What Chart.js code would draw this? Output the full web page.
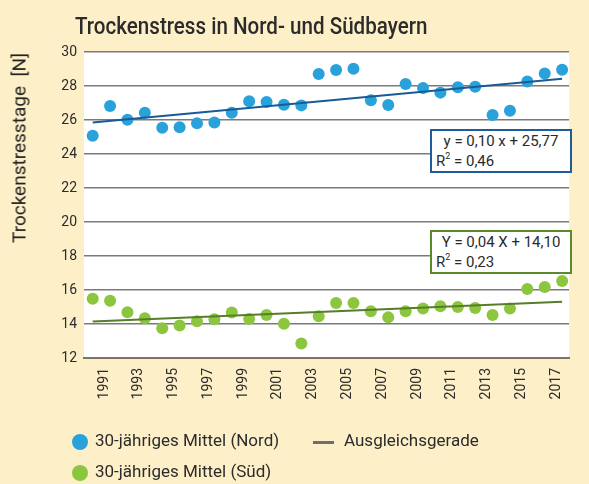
<!DOCTYPE html>
<html>
<head>
<meta charset="utf-8">
<script src="https://cdn.jsdelivr.net/npm/chart.js@4/dist/chart.umd.min.js"></script>
<style>
  html, body { margin:0; padding:0; background:#fdefc8; }
  #wrap { position:relative; width:589px; height:484px; overflow:hidden; background:#fdefc8; font-family:Roboto, "Noto Sans", sans-serif; color:#2b2b2b; }
  #c { position:absolute; left:0; top:0; }
  .title { position:absolute; left:75px; top:13px; font-size:23px; font-weight:500; white-space:nowrap; transform-origin:0 0; transform:scaleX(0.895); }
  .ytitle { position:absolute; left:19px; top:148px; font-size:19px; color:#222; white-space:nowrap; transform:translate(-50%,-50%) rotate(-90deg); }
  .box { position:absolute; left:430px; width:138px; height:40px; background:#fff; border:2px solid; font-size:15px; line-height:20px; }
  .box .l1 { text-align:center; }
  .box .l2 { padding-left:4px; }
  .box sup { font-size:9px; vertical-align:7px; line-height:0; }
  .leg { position:absolute; font-size:17px; white-space:nowrap; }
  .dot { position:absolute; width:16px; height:16px; border-radius:50%; }
  .dash { position:absolute; width:21px; height:3px; background:#6e6e6e; }
</style>
</head>
<body>
<div id="wrap">
  <canvas id="c" width="589" height="484"></canvas>
  <div class="title">Trockenstress in Nord- und Südbayern</div>
  <div class="ytitle">Trockenstresstage&nbsp;&nbsp;[N]</div>
  <div class="box" style="top:129px;border-color:#1f5c99;"><div class="l1">y = 0,10 x + 25,77</div><div class="l2">R<sup>2</sup> = 0,46</div></div>
  <div class="box" style="top:230px;border-color:#5b8a2a;"><div class="l1">Y = 0,04 X + 14,10</div><div class="l2">R<sup>2</sup> = 0,23</div></div>
  <div class="dot" style="left:72px;top:434px;background:#29a2dc;"></div>
  <div class="leg" style="left:95px;top:430px;">30-jähriges Mittel (Nord)</div>
  <div class="dash" style="left:313px;top:441px;"></div>
  <div class="leg" style="left:344px;top:430px;">Ausgleichsgerade</div>
  <div class="dot" style="left:72px;top:465px;background:#8cc63f;"></div>
  <div class="leg" style="left:95px;top:461px;">30-jähriges Mittel (Süd)</div>
</div>
<script>
const years = [1990,1991,1992,1993,1994,1995,1996,1997,1998,1999,2000,2001,2002,2003,2004,2005,2006,2007,2008,2009,2010,2011,2012,2013,2014,2015,2016,2017];
const nord = [25.08,26.82,26.02,26.43,25.55,25.57,25.81,25.85,26.43,27.10,27.06,26.90,26.86,28.71,28.94,29.02,27.16,26.88,28.12,27.88,27.61,27.92,27.96,26.29,26.55,28.26,28.73,28.96];
const sued = [15.49,15.37,14.69,14.34,13.75,13.91,14.16,14.28,14.67,14.29,14.53,14.02,12.85,14.45,15.24,15.24,14.75,14.39,14.75,14.91,15.04,15.00,14.94,14.53,14.91,16.06,16.18,16.53];
const trendYears = [1990, 2017];
const trendNord = [25.85, 28.43];
const trendSued = [14.14, 15.31];
const tickYears = [1991,1993,1995,1997,1999,2001,2003,2005,2007,2009,2011,2013,2015,2017];
const yTicks = [12,14,16,18,20,22,24,26,28,30];

const pts = (xs, ys) => xs.map((x, i) => ({x: x, y: ys[i]}));

const whiteArea = {
  id: 'whiteArea',
  beforeDraw(chart) {
    const {ctx, chartArea: a} = chart;
    ctx.save();
    ctx.fillStyle = '#ffffff';
    ctx.fillRect(a.left, a.top, a.right - a.left, a.bottom - a.top);
    ctx.restore();
  }
};

new Chart(document.getElementById('c'), {
  type: 'scatter',
  data: {
    datasets: [
      { type:'line', label:'Ausgleichsgerade Nord', data: pts(trendYears, trendNord), borderColor:'#1a5a97', borderWidth:2, pointRadius:0, fill:false },
      { type:'line', label:'Ausgleichsgerade Süd', data: pts(trendYears, trendSued), borderColor:'#567d27', borderWidth:2, pointRadius:0, fill:false },
      { label:'30-jähriges Mittel (Nord)', data: pts(years, nord), backgroundColor:'#29a2dc', borderWidth:0, pointRadius:6, pointHoverRadius:6 },
      { label:'30-jähriges Mittel (Süd)', data: pts(years, sued), backgroundColor:'#8cc63f', borderWidth:0, pointRadius:6, pointHoverRadius:6 }
    ]
  },
  options: {
    responsive:false,
    animation:false,
    layout:{ padding:{ top:52, right:0, left:0, bottom:0 } },
    plugins:{ legend:{display:false}, tooltip:{enabled:false} },
    scales:{
      x:{
        type:'linear', min:1989.5, max:2017.4,
        afterBuildTicks(s){ s.ticks = tickYears.map(v => ({value:v})); },
        afterFit(s){ s.height = 126; },
        grid:{ display:false, drawTicks:false },
        border:{ display:true, color:'#7d7466', width:2 },
        ticks:{ autoSkip:false, minRotation:90, maxRotation:90, padding:10, labelOffset:-6, color:'#2b2b2b', font:{family:'Roboto', size:14}, callback:(v)=>String(v) }
      },
      y:{
        min:12, max:30,
        afterBuildTicks(s){ s.ticks = yTicks.map(v => ({value:v})); },
        afterFit(s){ s.width = 84; },
        grid:{ color:'#7a7a7a', lineWidth:1.5, drawTicks:false },
        border:{ display:false },
        ticks:{ padding:7, color:'#2b2b2b', font:{family:'Roboto', size:14} }
      }
    }
  },
  plugins:[whiteArea]
});
</script>
</body>
</html>
